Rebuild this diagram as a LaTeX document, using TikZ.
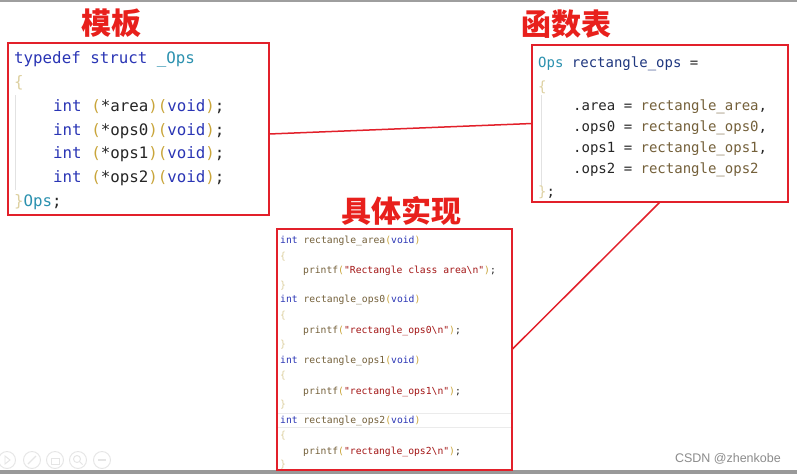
\documentclass[tikz,border=0pt]{standalone}
\usepackage{fontspec}
\setmonofont{DejaVu Sans Mono}
\setsansfont{Liberation Sans}
\newfontfamily\cjk{Noto Sans CJK SC}
\usetikzlibrary{calc}
\definecolor{boxred}{HTML}{E2202A}
\definecolor{titlered}{HTML}{E8201C}
\definecolor{kwc}{HTML}{2A35B5}
\definecolor{tyc}{HTML}{2B91AF}
\definecolor{pac}{HTML}{C9A53A}
\definecolor{brc}{HTML}{DDD0A0}
\definecolor{idc}{HTML}{1F377F}
\definecolor{fnc}{HTML}{74603A}
\definecolor{stc}{HTML}{A31515}
\definecolor{txc}{HTML}{262626}
\definecolor{guide}{HTML}{E2E2E2}
\newcommand\ckw[1]{\textcolor{kwc}{#1}}
\newcommand\cty[1]{\textcolor{tyc}{#1}}
\newcommand\cpa[1]{\textcolor{pac}{#1}}
\newcommand\cbr[1]{\textcolor{brc}{#1}}
\newcommand\cid[1]{\textcolor{idc}{#1}}
\newcommand\cfn[1]{\textcolor{fnc}{#1}}
\newcommand\cst[1]{\textcolor{stc}{#1}}
\tikzset{
  box/.style={draw=boxred, line width=1.5pt, inner sep=0pt, outer sep=0pt, anchor=north west},
  link/.style={draw=boxred, line width=1.5pt},
  title/.style={text=titlered, font=\cjk\fontsize{30}{30}\selectfont\bfseries, inner sep=0pt},
  codeA/.style={anchor=base west, inner sep=0pt, text=txc, font=\ttfamily\fontsize{15.8}{18}\selectfont},
  codeB/.style={anchor=base west, inner sep=0pt, text=txc, font=\ttfamily\fontsize{14}{16}\selectfont},
  codeC/.style={anchor=base west, inner sep=0pt, text=txc, font=\ttfamily\fontsize{9.7}{11}\selectfont},
  icon/.style={draw=black!10, line width=0.9pt, circle, minimum size=17pt, inner sep=0pt},
}
\begin{document}
\begin{tikzpicture}[x=1pt,y=-1pt]
\useasboundingbox (0,0) rectangle (797,474);
\fill[white] (0,0) rectangle (797,474);
% screen frame
\fill[black!38] (0,0) rectangle (797,1.5);
\fill[black!40] (0,470) rectangle (797,474);

% titles
\node[title] (ttmpl) at (111,23) {模板};
\node[title] (tftab) at (566,24) {函数表};
\node[title] (timpl) at (401,211) {具体实现};

% boxes
\node[box, minimum width=261pt, minimum height=172pt] (tmpl) at (8,43) {};
\node[box, minimum width=256pt, minimum height=157pt] (ftab) at (532,45) {};

% template code
\draw[guide, line width=1pt] (15,95) -- (15,190);
\node[codeA] (a1) at (14,63) {\ckw{typedef} \ckw{struct} \cty{\_Ops}};
\node[codeA] (a2) at (14,87) {\cbr{\{}};
\node[codeA] (a3) at (53,111) {\ckw{int} \cpa{(}*area\cpa{)}\cpa{(}\ckw{void}\cpa{)};};
\node[codeA] (a4) at (53,135) {\ckw{int} \cpa{(}*ops0\cpa{)}\cpa{(}\ckw{void}\cpa{)};};
\node[codeA] (a5) at (53,158) {\ckw{int} \cpa{(}*ops1\cpa{)}\cpa{(}\ckw{void}\cpa{)};};
\node[codeA] (a6) at (53,182) {\ckw{int} \cpa{(}*ops2\cpa{)}\cpa{(}\ckw{void}\cpa{)};};
\node[codeA] (a7) at (14,206) {\cbr{\}}\cty{Ops};};

% function table code
\draw[guide, line width=1pt] (541,95) -- (541,186);
\node[codeB] (b1) at (538,67) {\cty{Ops} \cid{rectangle\_ops} =};
\node[codeB] (b2) at (538,91) {\cbr{\{}};
\node[codeB] (b3) at (573,110) {.area = \cfn{rectangle\_area},};
\node[codeB] (b4) at (573,131) {.ops0 = \cfn{rectangle\_ops0},};
\node[codeB] (b5) at (573,152) {.ops1 = \cfn{rectangle\_ops1},};
\node[codeB] (b6) at (573,173) {.ops2 = \cfn{rectangle\_ops2}};
\node[codeB] (b7) at (538,196) {\cbr{\}};};

% implementation box
\draw[black!8, line width=0.8pt] (278,413) -- (511,413) (278,427.5) -- (511,427.5);
\node[box, minimum width=235pt, minimum height=241pt] (impl) at (277,229) {};
\node[codeC] (c1)  at (280,243.5) {\ckw{int} \cfn{rectangle\_area}\cpa{(}\ckw{void}\cpa{)}};
\node[codeC] (c2)  at (280,259.5) {\cbr{\{}};
\node[codeC] (c3)  at (303,273.5) {\cfn{printf}\cpa{(}\cst{"Rectangle class area\textbackslash n"}\cpa{)};};
\node[codeC] (c4)  at (280,288.5) {\cbr{\}}};
\node[codeC] (c5)  at (280,302.5) {\ckw{int} \cfn{rectangle\_ops0}\cpa{(}\ckw{void}\cpa{)}};
\node[codeC] (c6)  at (280,318.5) {\cbr{\{}};
\node[codeC] (c7)  at (303,333.5) {\cfn{printf}\cpa{(}\cst{"rectangle\_ops0\textbackslash n"}\cpa{)};};
\node[codeC] (c8)  at (280,347.5) {\cbr{\}}};
\node[codeC] (c9)  at (280,363.5) {\ckw{int} \cfn{rectangle\_ops1}\cpa{(}\ckw{void}\cpa{)}};
\node[codeC] (c10) at (280,378.5) {\cbr{\{}};
\node[codeC] (c11) at (303,394.5) {\cfn{printf}\cpa{(}\cst{"rectangle\_ops1\textbackslash n"}\cpa{)};};
\node[codeC] (c12) at (280,407.5) {\cbr{\}}};
\node[codeC] (c13) at (280,423.5) {\ckw{int} \cfn{rectangle\_ops2}\cpa{(}\ckw{void}\cpa{)}};
\node[codeC] (c14) at (280,438.5) {\cbr{\{}};
\node[codeC] (c15) at (303,454.5) {\cfn{printf}\cpa{(}\cst{"rectangle\_ops2\textbackslash n"}\cpa{)};};
\node[codeC] (c16) at (280,467.5) {\cbr{\}}};

% connectors
\coordinate (l1a) at ([yshift=-5pt]tmpl.east);
\coordinate (l1b) at ([yshift=0pt]ftab.west);
\draw[link] (l1a) -- (l1b);
\draw[link] (ftab.south) -- (impl.east);

% bottom toolbar icons
\node[icon] (i1) at (7,460) {};
\node[icon] (i2) at (32,460) {};
\node[icon] (i3) at (55,460) {};
\node[icon] (i4) at (78,460) {};
\node[icon] (i5) at (102,460) {};
\draw[black!10, line width=0.9pt] ($(i1)+(-2,-4)$) -- ($(i1)+(3,0)$) -- ($(i1)+(-2,4)$) -- cycle;
\draw[black!10, line width=1.2pt] ($(i2)+(-4,4)$) -- ($(i2)+(4,-4)$);
\draw[black!10, line width=0.9pt] ($(i3)+(-4,-2)$) rectangle ($(i3)+(4,4)$);
\draw[black!10, line width=0.9pt] ($(i4)+(-1,-1)$) circle (3.5pt) ($(i4)+(1.5,1.5)$) -- ($(i4)+(4.5,4.5)$);
\draw[black!10, line width=1.2pt] ($(i5)+(-4,0)$) -- ($(i5)+(4,0)$);

% watermark
\node[anchor=east, inner sep=0pt, text=black!45, font=\sffamily\fontsize{12.5}{14}\selectfont] (wm) at (781,459) {CSDN @zhenkobe};
\end{tikzpicture}
\end{document}
